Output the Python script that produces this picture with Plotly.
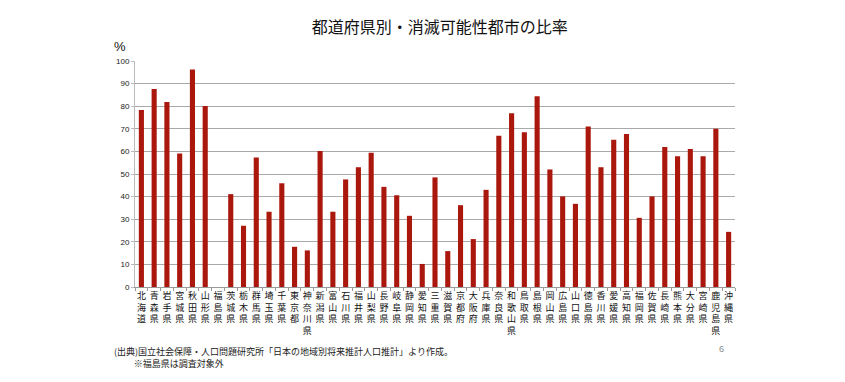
import plotly.graph_objects as go

prefectures = ["北海道","青森県","岩手県","宮城県","秋田県","山形県","福島県","茨城県","栃木県","群馬県",
               "埼玉県","千葉県","東京都","神奈川県","新潟県","富山県","石川県","福井県","山梨県","長野県",
               "岐阜県","静岡県","愛知県","三重県","滋賀県","京都府","大阪府","兵庫県","奈良県","和歌山県",
               "鳥取県","島根県","岡山県","広島県","山口県","徳島県","香川県","愛媛県","高知県","福岡県",
               "佐賀県","長崎県","熊本県","大分県","宮崎県","鹿児島県","沖縄県"]
ratios = [78.3, 87.6, 81.9, 59.1, 96.2, 80.1, None, 41.1, 27.1, 57.3,
          33.3, 45.9, 17.8, 16.2, 60.2, 33.3, 47.6, 53.0, 59.4, 44.3,
          40.6, 31.5, 10.2, 48.5, 15.9, 36.2, 21.2, 43.0, 66.9, 76.9,
          68.5, 84.4, 52.0, 40.1, 36.8, 71.0, 53.0, 65.1, 67.7, 30.6,
          40.1, 62.0, 57.9, 61.1, 57.9, 70.0, 24.4]
y_ticks = list(range(0, 101, 10))

labels = ["<br>".join(list(p)) for p in prefectures]
FONT = "Noto Sans CJK JP"

fig = go.Figure(go.Bar(x=labels, y=ratios, marker=dict(color="#AA170D", line=dict(width=0)),
                       hoverinfo="x+y"))
fig.update_layout(
    width=845, height=382,
    margin=dict(l=127, r=118, t=53, b=103),
    paper_bgcolor="white", plot_bgcolor="white",
    bargap=0.6, showlegend=False,
    font=dict(family=FONT, color="#222"),
    title=dict(text="都道府県別・消滅可能性都市の比率", x=0.511, xanchor="center", y=0.948, yanchor="middle",
               font=dict(size=16, family=FONT, color="#111")),
    xaxis=dict(type="category", tickfont=dict(size=9, family=FONT, color="#111"),
               showline=True, linecolor="#999", linewidth=1, ticks="outside", ticklen=3, tickcolor="#999",
               tickson="boundaries", showgrid=False, tickangle=0),
    yaxis=dict(range=[0, 100], tickvals=y_ticks, tickfont=dict(size=8, family="Liberation Sans", color="#222"),
               showline=True, linecolor="#BBB", linewidth=1, ticks="outside", ticklen=3, tickcolor="#BBB",
               showgrid=True, gridcolor="#AAA", gridwidth=1, zeroline=False),
)
fig.add_annotation(text="%", xref="paper", yref="paper", x=-0.025, y=1.024, xanchor="center", yanchor="bottom",
                   showarrow=False, font=dict(size=13, family="Liberation Sans", color="#111"))
fig.add_annotation(text="(出典)国立社会保障・人口問題研究所「日本の地域別将来推計人口推計」より作成。"
                        "<br>\u3000\u3000\u2009※福島県は調査対象外",
                   xref="paper", yref="paper", x=-0.038, y=-0.312, xanchor="left", yanchor="middle",
                   align="left", showarrow=False, font=dict(size=9, family=FONT, color="#222"))
fig.add_annotation(text="6", xref="paper", yref="paper", x=0.977, y=-0.274, xanchor="center", yanchor="middle",
                   showarrow=False, font=dict(size=9, family="Liberation Sans", color="#888"))
fig.write_html("out.html")
